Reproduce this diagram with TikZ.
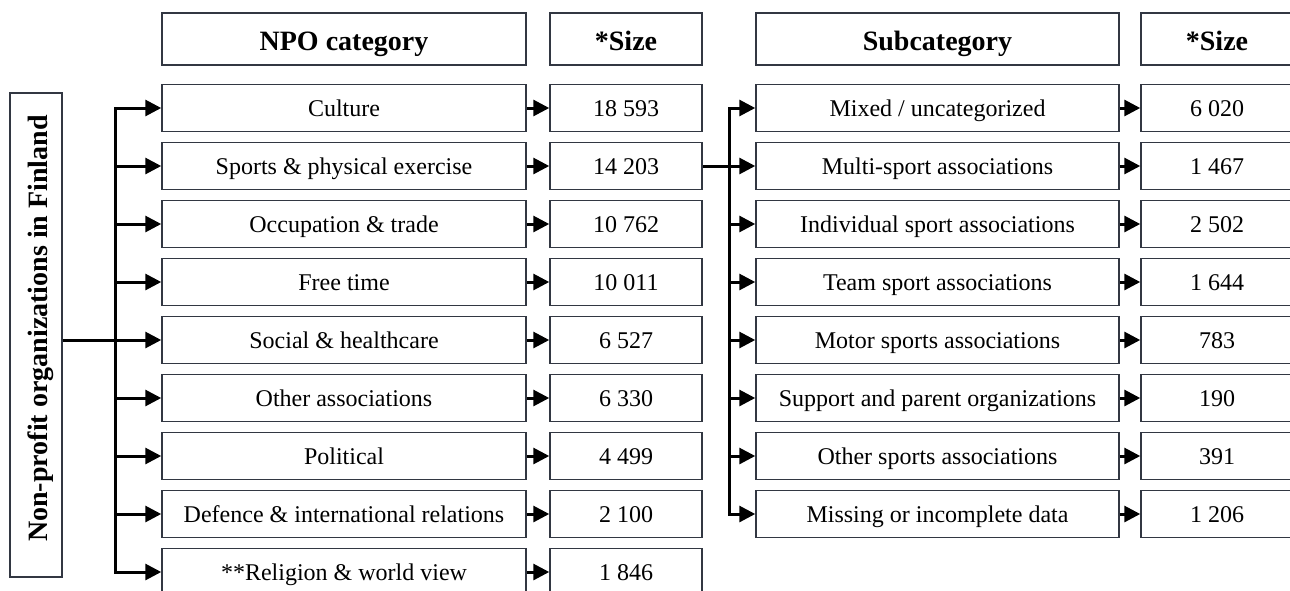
\documentclass[tikz,border=0pt]{standalone}
\usepackage{fontspec}
\setmainfont{Liberation Serif}
\usetikzlibrary{arrows.meta,calc}
\definecolor{boxcol}{RGB}{50,55,66}
\tikzset{
  box/.style={draw=boxcol, line width=1.5pt, inner sep=0pt, minimum height=47pt, font=\fontsize{24}{28}\selectfont, text=black, text height=20pt, text depth=3pt},
  hdr/.style={box, minimum height=52pt, font=\fontsize{28}{32}\selectfont\bfseries, text height=24pt, text depth=2pt},
  catbox/.style={box, minimum width=364pt},
  sizebox/.style={box, minimum width=152pt},
  subbox/.style={box, minimum width=363pt},
  conn/.style={line width=3pt, draw=black},
  arr/.style={conn, -{Triangle[length=16pt,width=16pt]}},
}
\begin{document}
\begin{tikzpicture}[x=1pt,y=-1pt]
\clip (0,0) rectangle (1290,590);
\fill[white] (0,0) rectangle (1290,590);
% headers
\node[hdr, minimum width=364pt] (hcat) at (344,39) {NPO category};
\node[hdr, minimum width=152pt] (hsize) at (626,39) {*Size};
\node[hdr, minimum width=363pt] (hsub) at (937.5,39) {Subcategory};
\node[hdr, minimum width=152pt] (hsize2) at (1217,39) {*Size};
% title
\node[hdr, rotate=90, minimum width=484pt, minimum height=52pt] (title) at (36,335) {\hspace*{13pt}Non-profit organizations in Finland};
% categories
\node[catbox] (c1) at (344,108) {Culture};
\node[catbox] (c2) at (344,166) {Sports \& physical exercise};
\node[catbox] (c3) at (344,224) {Occupation \& trade};
\node[catbox] (c4) at (344,282) {Free time};
\node[catbox] (c5) at (344,340) {Social \& healthcare};
\node[catbox] (c6) at (344,398) {Other associations};
\node[catbox] (c7) at (344,456) {Political};
\node[catbox] (c8) at (344,514) {Defence \& international relations};
\node[catbox] (c9) at (344,572) {**Religion \& world view};
% sizes
\node[sizebox] (s1) at (626,108) {18 593};
\node[sizebox] (s2) at (626,166) {14 203};
\node[sizebox] (s3) at (626,224) {10 762};
\node[sizebox] (s4) at (626,282) {10 011};
\node[sizebox] (s5) at (626,340) {6 527};
\node[sizebox] (s6) at (626,398) {6 330};
\node[sizebox] (s7) at (626,456) {4 499};
\node[sizebox] (s8) at (626,514) {2 100};
\node[sizebox] (s9) at (626,572) {1 846};
% subcategories
\node[subbox] (u1) at (937.5,108) {Mixed / uncategorized};
\node[subbox] (u2) at (937.5,166) {Multi-sport associations};
\node[subbox] (u3) at (937.5,224) {Individual sport associations};
\node[subbox] (u4) at (937.5,282) {Team sport associations};
\node[subbox] (u5) at (937.5,340) {Motor sports associations};
\node[subbox] (u6) at (937.5,398) {Support and parent organizations};
\node[subbox] (u7) at (937.5,456) {Other sports associations};
\node[subbox] (u8) at (937.5,514) {Missing or incomplete data};
% sub sizes
\node[sizebox] (v1) at (1217,108) {6 020};
\node[sizebox] (v2) at (1217,166) {1 467};
\node[sizebox] (v3) at (1217,224) {2 502};
\node[sizebox] (v4) at (1217,282) {1 644};
\node[sizebox] (v5) at (1217,340) {783};
\node[sizebox] (v6) at (1217,398) {190};
\node[sizebox] (v7) at (1217,456) {391};
\node[sizebox] (v8) at (1217,514) {1 206};
% trunk coordinates
\coordinate (tx) at (115,0);
\coordinate (sx) at (729,0);
% main trunk
\draw[conn] (title.south |- c5.west) -- (tx |- c5.west);
\draw[conn, line cap=rect] (tx |- c1.west) -- (tx |- c9.west);
\foreach \i in {1,...,9} {
  \draw[arr] (tx |- c\i.west) -- (c\i.west);
  \draw[arr] (c\i.east) -- (s\i.west);
}
% sub trunk
\draw[conn] (s2.east) -- (sx |- s2.east);
\draw[conn, line cap=rect] (sx |- u1.west) -- (sx |- u8.west);
\foreach \i in {1,...,8} {
  \draw[arr] (sx |- u\i.west) -- (u\i.west);
  \draw[arr] (u\i.east) -- (v\i.west);
}
\end{tikzpicture}
\end{document}
